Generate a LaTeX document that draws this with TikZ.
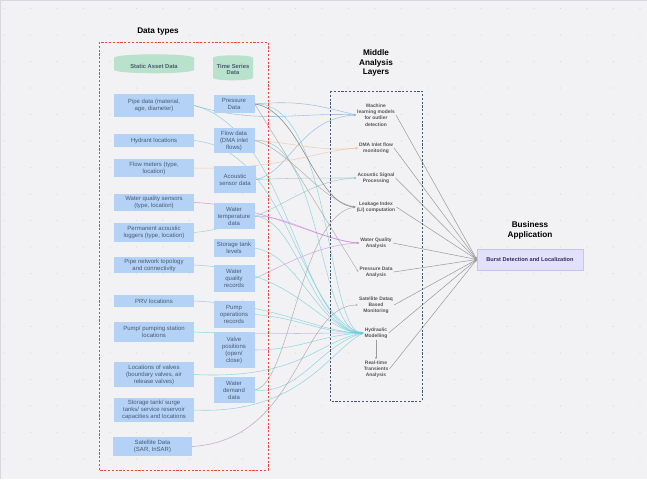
\documentclass[tikz,border=0pt]{standalone}
\usepackage{fontspec}
\setmainfont{Liberation Sans}
\usetikzlibrary{shapes.geometric,arrows.meta}
\pgfdeclarelayer{bglayer}
\pgfdeclarelayer{edgelayer}
\pgfsetlayers{bglayer,edgelayer,main}
\definecolor{bgc}{HTML}{F2F2F4}
\definecolor{dotc}{HTML}{D9D9DD}
\definecolor{boxc}{HTML}{B3D2F6}
\definecolor{boxtxt}{HTML}{4A5A72}
\definecolor{cylc}{HTML}{B8E2CB}
\definecolor{redc}{HTML}{E8473F}
\definecolor{navyc}{HTML}{4A5570}
\definecolor{midtxt}{HTML}{555555}
\definecolor{cyanc}{HTML}{6CCBDA}
\definecolor{bluec}{HTML}{79AEE0}
\definecolor{orangec}{HTML}{F4BC93}
\definecolor{tealc}{HTML}{8DC2BA}
\definecolor{purplec}{HTML}{C98BE0}
\definecolor{magc}{HTML}{D070D8}
\definecolor{satc}{HTML}{A88FA8}
\definecolor{grayc}{HTML}{9A9A9A}
\definecolor{dgrayc}{HTML}{5A5A5A}
\definecolor{burstc}{HTML}{E2E0FA}
\definecolor{burstb}{HTML}{C8C4F0}
\definecolor{bursttxt}{HTML}{2E2E60}
\tikzset{
  sbox/.style={fill=boxc, text=boxtxt, font=\fontsize{6}{7}\selectfont, align=center, inner sep=1pt},
  cyl/.style={cylinder, shape border rotate=90, aspect=0.14, fill=cylc, draw=none, text=boxtxt,
     font=\bfseries\fontsize{5.8}{6.8}\selectfont, align=center, inner sep=1pt},
  mid/.style={text=midtxt, font=\bfseries\fontsize{4.9}{6.2}\selectfont, align=center, inner sep=1pt},
  ttl/.style={font=\bfseries\fontsize{8.2}{9.8}\selectfont, align=center, text=black},
  tip/.style={-{Stealth[length=2.4pt,width=2pt]}},
  conn/.style={tip, line width=0.55pt, opacity=0.7},
}
\begin{document}
\begin{tikzpicture}[x=1pt,y=-1pt]
\useasboundingbox (0,0) rectangle (647,479);
\begin{pgfonlayer}{bglayer}
\fill[bgc] (0,0) rectangle (647,479);
\draw[dotc, line width=1pt] (0,479) -- (0,0) -- (647,0);
\foreach \x in {4,30.5,...,647} \foreach \y in {8.5,35,...,479} \fill[dotc] (\x,\y) circle (0.6);
\end{pgfonlayer}

% titles
\node[ttl] (tdata) at (158,32) {Data types};
\node[ttl] (tmid) at (376,63) {Middle\\Analysis\\Layers};
\node[ttl] (tbus) at (530,230) {Business\\Application};

% frames
\draw[redc, line width=1pt, dash pattern=on 2.2pt off 1.6pt] (99,42) rectangle (268,470);
\draw[navyc, line width=1pt, dash pattern=on 2.2pt off 1.6pt] (330,91) rectangle (422,401);

% cylinders
\node[cyl, minimum width=80pt, minimum height=19pt] (cs) at (154,66) {Static Asset Data};
\node[cyl, minimum width=40pt, minimum height=25pt] (ct) at (233,69.5) {Time Series\\Data};

% static boxes
\node[sbox, minimum width=80pt, minimum height=23pt] (pipe) at (154,105.5) {Pipe data (material,\\age, diameter)};
\node[sbox, minimum width=80pt, minimum height=13pt] (hyd0) at (154,140.5) {Hydrant locations};
\node[sbox, minimum width=80pt, minimum height=18pt] (fmet) at (154,168) {Flow meters (type,\\location)};
\node[sbox, minimum width=80pt, minimum height=17pt] (wqs) at (154,202.5) {Water quality sensors\\(type, location)};
\node[sbox, minimum width=80pt, minimum height=19pt] (alog) at (154,232.5) {Permanent acoustic\\loggers (type, location)};
\node[sbox, minimum width=80pt, minimum height=16pt] (pnet) at (154,265) {Pipe network topology\\and connectivity};
\node[sbox, minimum width=80pt, minimum height=12pt] (prv) at (154,301) {PRV locations};
\node[sbox, minimum width=80pt, minimum height=20pt] (pst) at (154,332) {Pump/ pumping station\\locations};
\node[sbox, minimum width=80pt, minimum height=25pt] (vloc) at (154,374.5) {Locations of valves\\(boundary valves, air\\release valves)};
\node[sbox, minimum width=80pt, minimum height=24pt] (stor) at (154,410) {Storage tank/ surge\\tanks/ service reservoir\\capacities and locations};
\node[sbox, minimum width=79pt, minimum height=19pt] (satd) at (152.5,446.5) {Satellite Data\\(SAR, InSAR)};

% time series boxes
\node[sbox, minimum width=41pt, minimum height=18pt] (pres) at (234,104) {Pressure\\Data};
\node[sbox, minimum width=41pt, minimum height=25pt] (flow) at (234,140.5) {Flow data\\(DMA inlet\\flows)};
\node[sbox, minimum width=42pt, minimum height=27pt] (acou) at (235,179.5) {Acoustic\\sensor data};
\node[sbox, minimum width=41pt, minimum height=26pt] (wtem) at (234,216) {Water\\temperature\\data};
\node[sbox, minimum width=41pt, minimum height=18pt] (slev) at (234,248) {Storage tank\\levels};
\node[sbox, minimum width=41pt, minimum height=27pt] (wqr) at (234,278.5) {Water\\quality\\records};
\node[sbox, minimum width=41pt, minimum height=27pt] (pops) at (234,314.5) {Pump\\operations\\records};
\node[sbox, minimum width=41pt, minimum height=36pt] (vpos) at (234,350) {Valve\\positions\\(open/\\close)};
\node[sbox, minimum width=41pt, minimum height=26pt] (wdem) at (234,390) {Water\\demand\\data};

% middle layer
\node[mid] (ml) at (376,115) {Machine\\learning models\\for outlier\\detection};
\node[mid] (dma) at (376,148) {DMA Inlet flow\\monitoring};
\node[mid] (asp) at (376,178) {Acoustic Signal\\Processing};
\node[mid] (li) at (376,207) {Leakage Index\\(LI) computation};
\node[mid] (wqa) at (376,243) {Water Quality\\Analysis};
\node[mid] (pda) at (376,272) {Pressure Data\\Analysis};
\node[mid] (sat) at (376,305) {Satellite Dataq\\Based\\Monitoring};
\node[mid] (hyd) at (376,333) {Hydraulic\\Modelling};
\node[mid] (rtt) at (376,369) {Real-time\\Transients\\Analysis};

% business
\node[fill=burstc, draw=burstb, line width=0.4pt, text=bursttxt, font=\bfseries\fontsize{5.6}{6.5}\selectfont,
      minimum width=106pt, minimum height=21pt, inner sep=1pt] (burst) at (530,259.5) {Burst Detection and Localization};

\begin{pgfonlayer}{edgelayer}
% data -> middle connectors
\draw[conn, cyanc] (pipe.east) .. controls (290,130) and (300,330) .. (hyd.west);
\draw[conn, bluec] (pipe.east) .. controls (260,125) and (300,112) .. (ml.west);
\draw[conn, bluec] (pres.east) .. controls (300,100) and (320,106) .. (ml.west);
\draw[conn, bluec] (acou.east) .. controls (290,172) and (300,118) .. (ml.west);
\draw[conn, cyanc] (pres.east) .. controls (332,100) and (326,333) .. (hyd.west);
\draw[conn, cyanc] (flow.east) .. controls (322,135) and (318,333) .. (hyd.west);
\draw[conn, dgrayc] (pres.east) .. controls (300,110) and (315,205) .. (li.west);
\draw[conn, grayc] (pres.east) -- (pda.west);
\draw[conn, orangec] (flow.east) .. controls (290,142) and (320,152) .. (dma.west);
\draw[conn, orangec] (fmet.east) .. controls (280,170) and (320,150) .. (dma.west);
\draw[conn, grayc] (flow.east) .. controls (290,150) and (320,200) .. (li.west);
\draw[conn, tealc] (acou.east) .. controls (290,178) and (320,178) .. (asp.west);
\draw[conn, tealc] (alog.east) .. controls (270,225) and (300,180) .. (asp.west);
\draw[conn, magc] (wqs.east) .. controls (260,205) and (320,240) .. (wqa.west);
\draw[conn, purplec] (wtem.east) .. controls (290,216) and (320,240) .. (wqa.west);
\draw[conn, purplec] (wqr.east) .. controls (290,262) and (320,245) .. (wqa.west);
\draw[conn, cyanc] (hyd0.east) .. controls (290,150) and (300,320) .. (hyd.west);
\draw[conn, cyanc] (wtem.east) .. controls (300,220) and (310,330) .. (hyd.west);
\draw[conn, cyanc] (slev.east) .. controls (300,255) and (320,333) .. (hyd.west);
\draw[conn, cyanc] (pnet.east) .. controls (300,270) and (320,333) .. (hyd.west);
\draw[conn, cyanc] (prv.east) .. controls (280,305) and (320,333) .. (hyd.west);
\draw[conn, cyanc] (pops.east) .. controls (300,318) and (320,333) .. (hyd.west);
\draw[conn, cyanc] (pst.east) .. controls (260,335) and (300,333) .. (hyd.west);
\draw[conn, cyanc] (vpos.east) .. controls (300,350) and (320,335) .. (hyd.west);
\draw[conn, cyanc] (vloc.east) .. controls (300,380) and (320,340) .. (hyd.west);
\draw[conn, cyanc] (wdem.east) .. controls (300,395) and (320,345) .. (hyd.west);
\draw[conn, cyanc] (stor.east) .. controls (300,415) and (330,350) .. (hyd.west);
\draw[conn, grayc] (wdem.east) .. controls (290,385) and (300,215) .. (li.west);
\draw[conn, satc] (satd.east) .. controls (300,440) and (300,305) .. (sat.west);

% middle -> middle
\draw[tip, grayc, line width=0.5pt] (hyd.south) -- (rtt.north);

% middle -> business
\foreach \n in {ml,dma,asp,li,wqa,pda,sat,hyd,rtt}
  \draw[tip, grayc, line width=0.5pt] (\n.east) -- (burst.west);
\end{pgfonlayer}
\end{tikzpicture}
\end{document}
